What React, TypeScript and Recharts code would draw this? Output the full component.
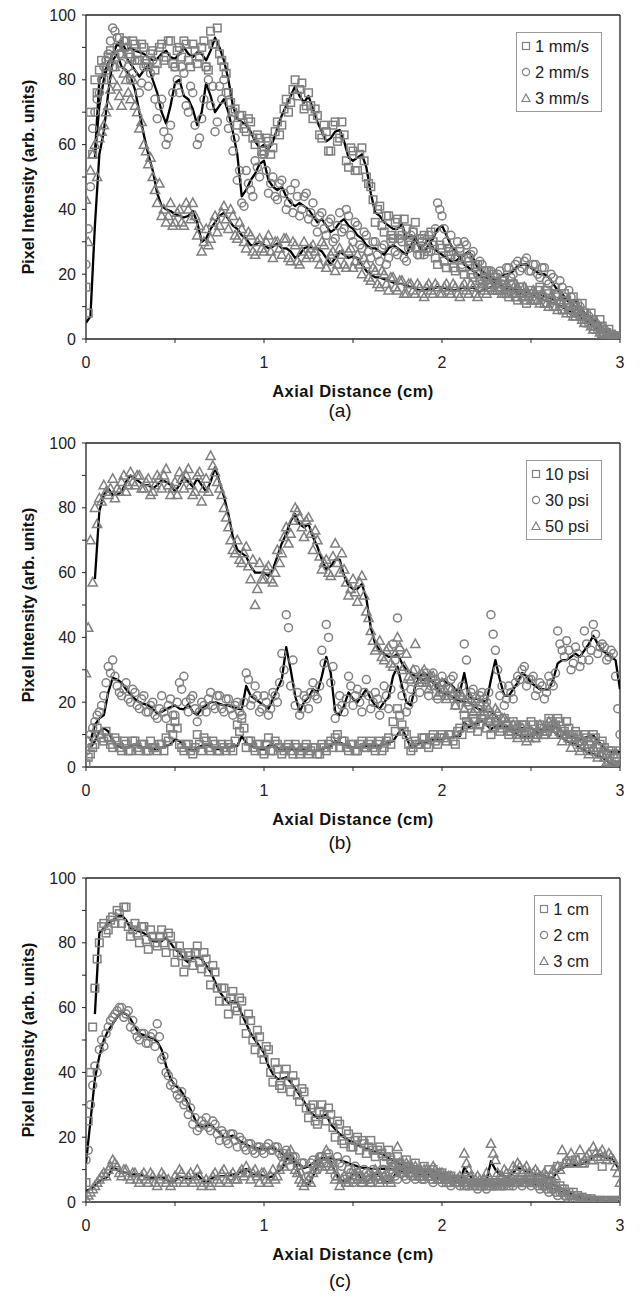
import React from 'react';
import { ComposedChart, Line, Scatter, XAxis, YAxis, ReferenceLine } from 'recharts';

const FONT = '"Liberation Sans", Arial, sans-serif';
const MARK = '#808080';

// sampling grid (cm)
const xs = [
  0, 0.025, 0.05, 0.075, 0.1, 0.125, 0.15, 0.175, 0.2, 0.225,
  0.25, 0.275, 0.3, 0.325, 0.35, 0.375, 0.4, 0.425, 0.45, 0.475,
  0.5, 0.525, 0.55, 0.575, 0.6, 0.625, 0.65, 0.675, 0.7, 0.725,
  0.75, 0.775, 0.8, 0.825, 0.85, 0.875, 0.9, 0.925, 0.95, 0.975,
  1, 1.025, 1.05, 1.075, 1.1, 1.125, 1.15, 1.175, 1.2, 1.225,
  1.25, 1.275, 1.3, 1.325, 1.35, 1.375, 1.4, 1.425, 1.45, 1.475,
  1.5, 1.525, 1.55, 1.575, 1.6, 1.625, 1.65, 1.675, 1.7, 1.725,
  1.75, 1.775, 1.8, 1.825, 1.85, 1.875, 1.9, 1.925, 1.95, 1.975,
  2, 2.025, 2.05, 2.075, 2.1, 2.125, 2.15, 2.175, 2.2, 2.225,
  2.25, 2.275, 2.3, 2.325, 2.35, 2.375, 2.4, 2.425, 2.45, 2.475,
  2.5, 2.525, 2.55, 2.575, 2.6, 2.625, 2.65, 2.675, 2.7, 2.725,
  2.75, 2.775, 2.8, 2.825, 2.85, 2.875, 2.9, 2.925, 2.95, 2.975,
  3,
];
// in-between sampling grid for the second set of measured points
const xsMid = [
  0.0125, 0.0375, 0.0625, 0.0875, 0.1125, 0.1375, 0.1625, 0.1875, 0.2125, 0.2375,
  0.2625, 0.2875, 0.3125, 0.3375, 0.3625, 0.3875, 0.4125, 0.4375, 0.4625, 0.4875,
  0.5125, 0.5375, 0.5625, 0.5875, 0.6125, 0.6375, 0.6625, 0.6875, 0.7125, 0.7375,
  0.7625, 0.7875, 0.8125, 0.8375, 0.8625, 0.8875, 0.9125, 0.9375, 0.9625, 0.9875,
  1.0125, 1.0375, 1.0625, 1.0875, 1.1125, 1.1375, 1.1625, 1.1875, 1.2125, 1.2375,
  1.2625, 1.2875, 1.3125, 1.3375, 1.3625, 1.3875, 1.4125, 1.4375, 1.4625, 1.4875,
  1.5125, 1.5375, 1.5625, 1.5875, 1.6125, 1.6375, 1.6625, 1.6875, 1.7125, 1.7375,
  1.7625, 1.7875, 1.8125, 1.8375, 1.8625, 1.8875, 1.9125, 1.9375, 1.9625, 1.9875,
  2.0125, 2.0375, 2.0625, 2.0875, 2.1125, 2.1375, 2.1625, 2.1875, 2.2125, 2.2375,
  2.2625, 2.2875, 2.3125, 2.3375, 2.3625, 2.3875, 2.4125, 2.4375, 2.4625, 2.4875,
  2.5125, 2.5375, 2.5625, 2.5875, 2.6125, 2.6375, 2.6625, 2.6875, 2.7125, 2.7375,
  2.7625, 2.7875, 2.8125, 2.8375, 2.8625, 2.8875, 2.9125, 2.9375, 2.9625, 2.9875,
];

const X_TICKS = [0, 0.5, 1, 1.5, 2, 2.5, 3];
const Y_TICKS = [0, 10, 20, 30, 40, 50, 60, 70, 80, 90, 100];

// ---------- Panel (a) ----------
const labelsA = ['1 mm/s', '2 mm/s', '3 mm/s'];
const lineA1 = [
  null, null, 57, 80, 82, 85, 88, 91, 92, 89,
  90, 89, 88.5, 88, 87, 86, 86.5, 88, 89, 87,
  86.5, 88, 90, 88, 87, 88.5, 88, 86, 89, 93,
  90, 86, 80, 72, 68, 67, 66, 64, 61, 59,
  60, 58.5, 61, 65, 69, 72, 75, 78, 75, 73,
  75, 71, 67, 64, 61, 62, 64, 64.5, 61, 56,
  55, 56, 57, 53, 45, 39, 38, 36, 35, 34,
  34, 35.5, 31, 32, 31.5, 28, 29, 31, 28, 27,
  26, 25, 24, 24, 25, 23, 22, 21, 20, 19,
  19, 18, 17, 17, 16, 15, 15, 14, 14, 13,
  13, 14, 14, 13, 13, 12, 12, 12.5, 13, 12,
  12, 10, 8, 7, 6, 5, 3.5, 2, 1, 0.5,
  0,
];
const scatA1 = [
  16, 70, 80, 83, 80, 87, 84, 90, 88, 92,
  87, 91, 86, 90, 84, 89, 85, 91, 87, 92,
  84, 90, 92, 86, 91, 85, 90, 84, 95, 91,
  88, 84, 76, 70, 66, 69, 64, 67, 60, 62,
  58, 61, 59, 67, 66, 74, 73, 80, 77, 71,
  76, 68, 69, 62, 64, 58, 67, 62, 63, 53,
  58, 52, 59, 50, 47, 36, 41, 33, 38, 31,
  37, 32, 34, 29, 36, 26, 32, 27, 30, 23,
  28, 22, 26, 21, 27, 20, 25, 19, 23, 17,
  21, 16, 19, 15, 18, 13, 17, 12, 16, 11,
  15, 12, 16, 11, 14, 10, 13, 9, 12, 8,
  10, 7, 8, 5, 6, 3, 4, 2, 1.5, 0.5,
  0.5,
];
const scatA1b = [
  8, 57, 76, 86, 83, 89, 87, 93, 90, 88,
  92, 86, 91, 85, 88, 83, 90, 86, 92, 85,
  89, 87, 91, 84, 89, 87, 92, 83, 91, 96,
  86, 82, 73, 71, 69, 65, 68, 62, 63, 58,
  62, 57, 64, 63, 71, 70, 77, 75, 79, 72,
  72, 71, 63, 66, 58, 66, 61, 67, 55, 59,
  52, 57, 55, 48, 43, 40, 35, 38, 32, 36,
  33, 37, 30, 33, 28, 31, 28, 33, 25, 29,
  24, 27, 22, 25, 22, 25, 20, 23, 18, 21,
  17, 20, 15, 18, 14, 17, 13, 16, 12, 14,
  12, 15, 13, 15, 12, 14, 11, 14, 11, 13,
  9, 11, 6, 8, 4, 6, 2, 3, 0.5, 1,
];
const lineA2 = [
  null, null, 56, 72, 80, 85, 88, 91, 90, 87,
  85, 83, 81, 83, 84.5, 80, 76, 70, 66.5, 72,
  79, 80, 75, 74, 71, 66, 70, 79, 75, 70,
  72, 74, 70, 64, 57, 44, 46, 49, 51, 54,
  55, 49, 47, 46, 47, 44, 42, 41, 42, 41,
  40, 38, 36, 37, 35, 33, 34, 36, 37, 35,
  34, 32, 31, 29, 28, 28, 27, 26, 28, 29,
  28, 27, 26, 29, 31, 28, 27, 29, 31, 34,
  35, 32, 29, 27, 25, 26, 27, 25, 22, 21,
  20, 19, 18, 19, 20, 20, 21, 22.5, 23, 23,
  22, 21, 20, 20, 19, 17, 15, 14, 12, 11,
  10, 8, 6.5, 5, 4, 3, 2, 1, 0.5, 0.3,
  0,
];
const scatA2 = [
  23, 47, 70, 76, 84, 88, 96, 93, 85, 90,
  80, 86, 76, 84, 78, 86, 68, 74, 60, 66,
  84, 76, 82, 70, 76, 60, 68, 84, 72, 64,
  78, 80, 65, 58, 49, 42, 52, 46, 55, 50,
  57, 45, 50, 43, 49, 40, 46, 48, 38, 44,
  37, 42, 33, 39, 32, 37, 31, 39, 34, 38,
  30, 35, 28, 32, 25, 30, 24, 29, 25, 31,
  26, 30, 24, 32, 28, 31, 26, 32, 29, 42,
  38, 30, 32, 25, 28, 30, 24, 27, 20, 23,
  18, 21, 17, 21, 19, 22, 20, 24, 22, 25,
  21, 23, 19, 22, 17, 19, 14, 16, 11, 13,
  8, 10, 5, 7, 3, 4, 1.5, 2, 0.5, 1,
  0.5,
];
const scatA2b = [
  34, 65, 74, 80, 86, 92, 95, 88, 92, 84,
  82, 88, 79, 86, 82, 74, 72, 64, 62, 76,
  80, 84, 72, 78, 66, 62, 74, 80, 78, 67,
  74, 76, 68, 62, 52, 41, 48, 44, 53, 57,
  52, 48, 44, 48, 45, 42, 39, 44, 40, 45,
  39, 36, 38, 34, 36, 30, 35, 33, 40, 32,
  36, 29, 33, 27, 30, 26, 28, 23, 30, 27,
  31, 25, 28, 33, 26, 30, 28, 27, 34, 40,
  34, 28, 27, 30, 23, 29, 26, 22, 24, 19,
  21, 18, 20, 17, 22, 19, 23, 21, 24, 21,
  23, 20, 22, 18, 20, 16, 18, 13, 15, 10,
  11, 7, 8, 4, 5, 2, 3, 1, 0.5, 0.5,
];
const lineA3 = [
  5, 7, 35, 57, 64, 76, 86, 88, 84, 83,
  81, 77, 70, 63, 57, 52, 45, 41, 40, 39.5,
  38.5, 38, 37.5, 38, 39.5, 36, 30, 31, 34, 36,
  38, 39, 37, 35, 34, 32, 31, 29, 29, 30,
  29, 28, 28.5, 29.5, 28, 28, 27, 25, 26, 28,
  28.5, 28, 28, 27, 25, 23, 25, 27, 26, 25,
  25.5, 25, 23, 21, 20, 19, 19, 18.5, 18, 17.5,
  17, 17, 16.5, 16, 15.5, 15, 15, 15.5, 15.5, 16,
  16, 15.5, 15, 15, 15.5, 16, 15.5, 16, 14.5, 15,
  15.5, 16, 16, 16, 16, 16, 15.5, 15, 15, 14.5,
  14, 13, 12.5, 12, 11.5, 11, 10.5, 10, 9, 8.5,
  8, 7, 6, 5, 4, 3, 2, 1, 0.5, 0.2,
  0,
];
const scatA3 = [
  43, 52, 60, 62, 66, 72, 80, 78, 72, 80,
  74, 72, 65, 60, 54, 50, 42, 38, 36, 42,
  36, 40, 35, 40, 42, 32, 27, 34, 31, 38,
  35, 41, 34, 38, 31, 34, 28, 32, 26, 31,
  27, 32, 25, 30, 26, 31, 24, 29, 23, 30,
  26, 29, 25, 30, 22, 26, 21, 28, 23, 27,
  22, 26, 20, 23, 18, 21, 16, 20, 15, 19,
  15, 18, 14, 17, 14, 16, 13, 17, 14, 16,
  14, 17, 14, 16, 13, 17, 14, 16, 13, 16,
  14, 17, 15, 17, 14, 16, 14, 16, 13, 15,
  12, 14, 11, 13, 10, 12, 9, 11, 8, 9,
  7, 8, 5, 6, 3, 4, 1.5, 2, 0.5, 1,
  0.5,
];
const scatA3b = [
  30, 57, 50, 64, 70, 77, 84, 75, 82, 76,
  80, 70, 67, 58, 56, 46, 48, 40, 38, 35,
  39, 36, 42, 37, 38, 35, 30, 29, 36, 33,
  39, 37, 40, 32, 36, 30, 33, 27, 30, 28,
  30, 27, 30, 28, 31, 25, 30, 24, 27, 25,
  28, 27, 23, 29, 24, 27, 23, 26, 22, 28,
  24, 23, 25, 19, 22, 17, 21, 17, 19, 16,
  18, 14, 17, 15, 17, 14, 16, 15, 17, 14,
  16, 15, 17, 14, 16, 15, 17, 14, 16, 15,
  17, 15, 16, 14, 17, 15, 17, 14, 16, 13,
  15, 12, 14, 11, 13, 10, 12, 9, 10, 7,
  9, 6, 7, 4, 5, 2, 3, 1, 0.5, 0.3,
];

// ---------- Panel (b) ----------
const labelsB = ['10 psi', '30 psi', '50 psi'];
const lineB10 = [
  null, 6, 8, 11, 12, 11, 8, 6.5, 6, 6,
  6.5, 7, 6.5, 6, 6, 5.5, 5.5, 6, 6.5, 7,
  8.5, 8, 6.5, 5.5, 5, 6, 6.5, 7, 6.5, 5.5,
  5.5, 6, 6, 6.5, 6.5, 9.5, 7.5, 6.5, 6, 5.5,
  5.5, 6.5, 7, 6, 5, 6, 5.5, 5.5, 5, 5.5,
  5, 5, 5, 5.5, 6, 6.5, 8, 7.5, 7, 6.5,
  6, 6, 6, 6.5, 6.5, 6.5, 6.5, 7, 7.5, 8,
  10, 12, 9, 6, 6.5, 7.5, 7.5, 8, 8.5, 8.5,
  8.7, 9, 9, 9.5, 9.5, 13.8, 12.3, 13, 13.5, 14.2,
  13, 11.7, 12.5, 12.8, 12.5, 12, 11.7, 11.7, 12, 12,
  12, 11, 11.5, 12, 13, 12.5, 12, 11, 10, 9.5,
  9, 8.7, 9, 9.5, 9.7, 8, 6.6, 5, 4.6, 4.6,
  4.6,
];
const scatB10 = [
  1, 4, 7, 10, 8, 9, 6, 8, 5, 7,
  5, 8, 5, 7, 5, 6, 5, 7, 9, 12,
  14, 7, 5, 7, 4, 10, 5, 8, 5, 7,
  5, 6, 7, 5, 13, 15, 6, 8, 5, 7,
  4, 9, 5, 7, 4, 6, 5, 7, 4, 6,
  4, 6, 4, 7, 5, 8, 9, 6, 8, 5,
  7, 5, 8, 6, 8, 5, 8, 6, 9, 14,
  18, 13, 10, 5, 8, 7, 9, 6, 10, 7,
  10, 8, 10, 7, 12, 16, 13, 15, 11, 15,
  12, 10, 14, 11, 15, 10, 14, 10, 13, 10,
  14, 9, 13, 10, 15, 12, 15, 10, 14, 9,
  11, 7, 10, 7, 10, 6, 8, 4, 5, 3,
  5,
];
const scatB10b = [
  3, 6, 12, 9, 11, 7, 9, 6, 8, 5,
  8, 6, 7, 5, 8, 6, 7, 5, 8, 10,
  12, 6, 7, 5, 6, 7, 9, 6, 8, 5,
  7, 5, 6, 8, 11, 12, 8, 6, 7, 5,
  7, 5, 8, 6, 5, 7, 4, 6, 5, 7,
  5, 6, 4, 6, 7, 6, 10, 8, 6, 7,
  5, 7, 6, 7, 6, 7, 5, 8, 7, 11,
  16, 11, 7, 6, 7, 9, 7, 9, 8, 9,
  9, 10, 8, 11, 10, 14, 12, 14, 13, 16,
  14, 12, 13, 12, 13, 11, 13, 12, 13, 11,
  13, 10, 12, 11, 14, 13, 14, 11, 12, 10,
  10, 8, 9, 8, 9, 7, 6, 5, 4, 4,
];
const lineB30 = [
  null, 8, 13, 15, 16, 23, 27.5, 27, 26, 24,
  22.5, 21, 20, 19.5, 19, 18, 16.5, 17, 17.8, 18.5,
  19, 18, 17.8, 19.4, 17, 16, 18, 19, 20, 20,
  19.5, 19, 19, 18.5, 18, 17.8, 25, 22, 21, 20,
  19, 18, 21, 24, 27, 37, 30, 22, 17, 20,
  21.5, 24, 23, 28, 34, 29, 17, 16, 19, 23,
  21, 20, 22, 24, 21, 19, 18, 20, 21.5, 28,
  31, 25, 20, 19, 25, 28, 29, 28, 26, 25.5,
  27, 26, 25.5, 24, 23, 29, 22, 21, 21, 20.5,
  20, 27, 33, 27, 22, 22, 24, 26, 29, 28,
  26, 25, 24, 24, 24, 27, 32, 33, 33, 34,
  35, 34, 36, 38, 40.5, 38, 36, 35, 34, 33,
  24,
];
const scatB30 = [
  5, 10, 14, 17, 22, 31, 33, 25, 22, 26,
  20, 23, 18, 22, 17, 20, 15, 22, 15, 21,
  16, 26, 28, 17, 22, 14, 20, 17, 23, 18,
  22, 17, 21, 16, 20, 16, 29, 19, 25, 17,
  22, 16, 23, 20, 35, 47, 25, 19, 16, 22,
  18, 26, 21, 36, 44, 26, 15, 22, 17, 28,
  19, 24, 17, 27, 18, 23, 16, 25, 18, 38,
  46, 22, 17, 24, 30, 23, 27, 22, 29, 21,
  28, 22, 27, 19, 22, 38, 19, 24, 18, 23,
  20, 47, 36, 22, 19, 25, 21, 28, 30, 25,
  27, 22, 26, 21, 28, 25, 42, 36, 39, 30,
  37, 31, 42, 33, 44, 35, 38, 33, 36, 28,
  10,
];
const scatB30b = [
  8, 12, 16, 19, 26, 29, 28, 23, 24, 21,
  24, 19, 21, 17, 19, 16, 18, 17, 19, 16,
  20, 24, 20, 21, 18, 17, 19, 21, 19, 22,
  18, 21, 18, 19, 17, 20, 27, 21, 22, 18,
  20, 18, 22, 26, 30, 43, 33, 23, 18, 21,
  23, 22, 25, 32, 40, 31, 18, 19, 21, 25,
  22, 20, 23, 22, 20, 21, 19, 22, 24, 33,
  36, 25, 19, 21, 27, 26, 29, 25, 27, 24,
  26, 24, 28, 23, 25, 33, 23, 20, 22, 21,
  23, 41, 30, 25, 21, 23, 26, 27, 31, 27,
  28, 24, 25, 23, 26, 29, 38, 34, 36, 32,
  35, 33, 38, 36, 41, 37, 37, 34, 35, 18,
];
const lineB50 = [
  null, null, 58, 79, 84, 86, 84, 84, 85, 88,
  90, 89, 88, 87, 87, 86, 87, 88.5, 88, 87,
  85, 87, 89.5, 88, 86.5, 89, 87, 85, 88, 92.5,
  88, 83.5, 78, 71, 67, 66, 65, 62, 60, 60,
  60, 59, 61, 65, 69, 72, 76, 78, 75, 74,
  75, 71, 68, 64, 61, 62, 64, 64, 59, 56,
  55, 55, 56.5, 52, 43, 38, 36, 35, 34, 34,
  35, 32, 30, 29, 28, 27, 27, 27, 26, 24,
  23, 22.5, 22, 21, 20.5, 20, 20, 19, 18, 17.5,
  17, 17, 16, 14, 13, 12, 11, 10, 9.5, 9,
  9.5, 10, 11, 11, 12, 11, 10, 9, 8, 7.5,
  7, 6, 5, 4.5, 4, 3.5, 3, 2, 1, 0.5,
  0,
];
const scatB50 = [
  29, 70, 80, 83, 87, 84, 89, 86, 88, 85,
  91, 87, 90, 86, 89, 85, 90, 86, 92, 84,
  88, 91, 86, 92, 84, 90, 82, 89, 96, 91,
  86, 80, 74, 67, 70, 63, 68, 58, 50, 63,
  58, 62, 57, 67, 66, 74, 72, 80, 77, 71,
  77, 67, 70, 61, 64, 59, 69, 60, 61, 53,
  58, 51, 59, 48, 42, 36, 39, 33, 37, 31,
  40, 30, 35, 27, 38, 26, 30, 24, 28, 22,
  26, 21, 24, 19, 23, 18, 22, 17, 21, 16,
  19, 15, 18, 13, 15, 11, 13, 9, 12, 8,
  11, 9, 13, 10, 14, 10, 12, 8, 10, 6,
  9, 5, 7, 4, 6, 3, 4, 1.5, 1, 0.5,
  0.5,
];
const scatB50b = [
  43, 57, 75, 82, 85, 86, 83, 85, 90, 87,
  88, 90, 86, 88, 84, 87, 89, 90, 87, 86,
  84, 89, 90, 87, 85, 91, 86, 85, 93, 88,
  84, 77, 70, 66, 64, 66, 62, 64, 55, 58,
  61, 58, 60, 63, 71, 69, 76, 79, 74, 76,
  72, 73, 65, 63, 60, 65, 63, 66, 57, 55,
  54, 57, 53, 46, 39, 37, 34, 36, 32, 35,
  37, 31, 28, 30, 27, 29, 26, 28, 25, 23,
  24, 22, 23, 21, 22, 20, 21, 18, 20, 17,
  18, 16, 17, 15, 14, 12, 12, 10, 11, 9,
  10, 11, 12, 11, 13, 12, 11, 10, 9, 8,
  8, 6, 6, 5, 5, 4, 3, 2, 1, 0.5,
];

// ---------- Panel (c) ----------
const labelsC = ['1 cm', '2 cm', '3 cm'];
const lineC1 = [
  null, null, 58, 83, 84.5, 86, 87, 88, 88.5, 87,
  84.5, 84, 83.5, 83, 82, 80.5, 80.5, 80.5, 81.5, 80,
  78, 77, 75, 74, 75.5, 75.5, 75, 73, 71, 68,
  65, 63, 61.5, 62, 61.5, 58, 55, 52, 50, 48,
  46, 42, 39.5, 38, 38, 38.5, 37, 35, 33, 31,
  28.5, 27, 26, 26.5, 27, 24, 22.5, 21, 20, 19,
  18.5, 17.5, 17, 16.5, 16, 15.5, 15, 14.5, 13.5, 13,
  12, 11.5, 11, 10.5, 10, 9.5, 9, 8.7, 8.4, 8,
  7.5, 7, 6.8, 6.5, 6.2, 6, 6, 5.8, 5.6, 5.5,
  5.5, 5.5, 5.5, 5.6, 5.8, 6, 6, 6.3, 6.5, 6.5,
  6.5, 6.4, 6.2, 6, 5.8, 5.3, 4.8, 4, 3.4, 2.6,
  1.9, 1.4, 1, 0.8, 0.6, 0.5, 0.4, 0.3, 0.3, 0.3,
  0.3,
];
const scatC1 = [
  6, 40, 66, 80, 86, 84, 88, 90, 86, 91,
  82, 86, 80, 85, 78, 82, 79, 84, 77, 82,
  74, 79, 71, 77, 73, 79, 72, 75, 67, 71,
  62, 66, 58, 65, 59, 62, 52, 56, 47, 51,
  44, 47, 37, 41, 35, 41, 34, 37, 31, 34,
  26, 30, 24, 30, 25, 27, 20, 24, 18, 21,
  17, 20, 19, 15, 19, 14, 17, 12, 16, 11,
  14, 10, 13, 9, 12, 8, 11, 8, 10, 7,
  9, 6, 8, 6, 7, 5, 7, 5, 6, 5,
  6, 5, 6, 5, 6, 5, 7, 6, 7, 6,
  7, 6, 7, 5, 10, 5, 11, 4, 12, 2,
  13, 1, 12, 0.5, 13, 0.5, 11, 0.5, 0.5, 0.5,
  0.5,
];
const scatC1b = [
  25, 54, 75, 85, 83, 87, 86, 89, 91, 85,
  84, 83, 85, 81, 84, 80, 82, 80, 83, 79,
  77, 76, 74, 76, 77, 74, 77, 71, 73, 66,
  66, 62, 63, 60, 63, 56, 58, 50, 53, 46,
  48, 40, 43, 36, 39, 37, 39, 33, 35, 29,
  29, 25, 28, 27, 29, 23, 25, 19, 22, 17,
  19, 16, 18, 17, 16, 16, 15, 14, 13, 12,
  12, 11, 11, 10, 10, 9, 9, 8, 9, 7,
  8, 7, 7, 6, 7, 6, 6, 6, 5, 6,
  5, 6, 5, 6, 6, 6, 6, 7, 6, 7,
  6, 7, 6, 6, 6, 5, 5, 4, 3, 3,
  2, 1.5, 1, 1, 0.5, 0.5, 0.5, 0.3, 0.3, 0.3,
];
const lineC2 = [
  12, 25, 38, 45, 50, 53, 55, 57, 58.5, 58,
  56.5, 54, 52, 51.5, 51, 50.5, 49.5, 47, 42, 38,
  36, 35, 33, 30, 27, 24, 23, 23.5, 24, 22.5,
  21.5, 20, 20, 20.5, 19.5, 18.5, 17.8, 17, 16.7, 16.5,
  16.3, 16.5, 16.7, 16, 15, 14, 13, 12, 11.5, 10.5,
  11, 12, 13, 13.5, 13.5, 13.5, 13, 13, 12.5, 12,
  11.5, 11, 10.6, 10.5, 10.3, 10.2, 10.2, 10.2, 10.2, 10,
  9.8, 9.5, 9.5, 9.2, 9, 8.6, 8.3, 8, 7.8, 7.5,
  7.3, 7, 6.8, 6.5, 6.3, 6.2, 6, 6, 5.8, 5.7,
  5.5, 5.5, 5.6, 5.8, 6, 6, 6, 6, 6, 6,
  5.8, 5.6, 5.5, 5, 4.5, 4, 3.5, 3, 2.5, 2,
  1.5, 1, 0.8, 0.5, 0.4, 0.3, 0.3, 0.3, 0.3, 0.3,
  0.3,
];
const scatC2 = [
  13, 30, 42, 47, 48, 54, 57, 59, 60, 58,
  54, 53, 50, 52, 49, 52, 55, 44, 40, 36,
  35, 32, 30, 27, 24, 22, 25, 26, 22, 24,
  19, 21, 18, 21, 17, 19, 16, 18, 15, 17,
  15, 18, 16, 17, 14, 16, 11, 14, 9, 12,
  8, 13, 10, 14, 11, 13, 8, 12, 7, 10,
  6, 9, 6, 9, 6, 9, 7, 10, 7, 9,
  7, 9, 7, 8, 7, 8, 7, 8, 6, 8,
  6, 7, 5, 7, 5, 6, 5, 6, 4, 6,
  4, 6, 5, 6, 5, 7, 5, 7, 5, 7,
  5, 6, 4, 5, 3, 4, 2, 3, 1.5, 2,
  0.5, 1, 0.3, 0.5, 0, 0.3, 0, 0.3, 0, 0.3,
  0.5,
];
const scatC2b = [
  16, 36, 40, 50, 52, 56, 58, 60, 57, 59,
  56, 51, 52, 49, 51, 48, 51, 45, 39, 37,
  33, 34, 31, 29, 26, 23, 24, 23, 25, 21,
  22, 19, 21, 19, 20, 17, 18, 16, 17, 16,
  17, 16, 17, 15, 15, 13, 14, 11, 12, 10,
  12, 11, 14, 12, 15, 12, 14, 11, 13, 9,
  11, 8, 10, 7, 10, 8, 10, 7, 10, 8,
  9, 8, 9, 8, 9, 7, 9, 7, 8, 7,
  7, 6, 7, 6, 7, 5, 7, 5, 6, 5,
  6, 5, 6, 5, 6, 6, 6, 6, 6, 6,
  6, 5, 5, 4, 4, 3, 3, 2, 2, 1,
  1, 0.5, 0.5, 0.3, 0.3, 0, 0.3, 0, 0.3, 0,
];
const lineC3 = [
  3.4, 4, 5, 6.5, 7, 8, 10.6, 10, 9.2, 9,
  8.5, 8.5, 8.5, 8, 7.5, 7.5, 7.5, 7.8, 7, 6,
  6.5, 7.8, 7.5, 7, 7.5, 8.5, 7, 6, 7, 8,
  8, 8, 8, 8.5, 8.5, 9.5, 10.2, 9, 8.5, 8.5,
  8, 7.5, 8, 9.5, 10, 13, 14.8, 12, 8.5, 6,
  5.5, 8, 11, 13, 13.6, 12.5, 9, 7, 6.5, 6.5,
  8.5, 9, 7, 6, 7.5, 9, 8, 6.5, 6, 7.5,
  9.5, 10, 10.5, 10.6, 10, 9.5, 9.5, 9.5, 9.5, 9,
  8.5, 8, 8, 7, 6, 10.6, 8.5, 7, 7, 6.5,
  6.5, 12.6, 10, 8.5, 8, 7.5, 9, 10.6, 10, 9.5,
  9, 8.5, 8.5, 8, 7.5, 7.5, 9.5, 10.5, 11, 11.5,
  11.5, 11.5, 12, 12.6, 14, 14.8, 14, 13.6, 13.6, 12,
  9.5,
];
const scatC3 = [
  1, 3, 5, 7, 9, 10, 13, 11, 8, 10,
  7, 9, 6, 9, 6, 8, 5, 9, 6, 5,
  8, 10, 6, 8, 6, 10, 5, 7, 5, 9,
  6, 10, 6, 9, 7, 10, 11, 7, 10, 6,
  9, 6, 10, 8, 12, 14, 16, 10, 7, 5,
  7, 9, 13, 11, 16, 10, 7, 5, 8, 6,
  10, 7, 6, 8, 6, 10, 6, 8, 7, 11,
  17, 9, 12, 9, 11, 8, 10, 8, 11, 7,
  9, 7, 8, 6, 8, 15, 10, 6, 8, 6,
  9, 18, 13, 8, 10, 7, 11, 12, 9, 11,
  8, 10, 8, 9, 7, 10, 11, 16, 13, 15,
  12, 16, 13, 15, 17, 14, 16, 13, 14, 11,
  6,
];
const scatC3b = [
  2, 4, 6, 8, 8, 11, 12, 9, 10, 8,
  9, 7, 8, 7, 9, 6, 7, 8, 7, 6,
  7, 9, 7, 9, 7, 8, 6, 6, 8, 7,
  9, 7, 8, 7, 9, 8, 9, 9, 8, 9,
  7, 8, 7, 10, 11, 15, 13, 9, 6, 6,
  6, 10, 12, 14, 12, 11, 8, 7, 6, 7,
  8, 8, 7, 7, 8, 8, 7, 7, 6, 9,
  12, 10, 11, 10, 10, 9, 10, 9, 10, 9,
  8, 8, 7, 7, 7, 12, 8, 7, 7, 7,
  8, 15, 9, 8, 9, 8, 10, 11, 10, 9,
  9, 9, 8, 8, 8, 8, 10, 12, 12, 12,
  13, 12, 14, 13, 15, 15, 14, 15, 13, 9,
];

type Num = number | null;
const toPts = (grid: number[], vals: Num[]) =>
  vals.map((v, i) => ({ x: grid[i], y: v })).filter((p) => p.x !== undefined);

const Square = (p: any) => (
  <rect x={p.cx - 3.8} y={p.cy - 3.8} width={7.6} height={7.6} fill="none" stroke={MARK} strokeWidth={1.5} />
);
const Circle = (p: any) => (
  <circle cx={p.cx} cy={p.cy} r={4} fill="none" stroke={MARK} strokeWidth={1.5} />
);
const Tri = (p: any) => (
  <polygon
    points={`${p.cx},${p.cy - 4.8} ${p.cx - 4.6},${p.cy + 3.6} ${p.cx + 4.6},${p.cy + 3.6}`}
    fill="none"
    stroke={MARK}
    strokeWidth={1.5}
  />
);
const SHAPES = [Square, Circle, Tri];

const LegendIcon = ({ kind }: { kind: number }) => (
  <svg width={10} height={10} style={{ display: 'block' }}>
    {kind === 0 && <rect x={1.5} y={1.5} width={7} height={7} fill="none" stroke={MARK} strokeWidth={1.2} />}
    {kind === 1 && <circle cx={5} cy={5} r={3.6} fill="none" stroke={MARK} strokeWidth={1.2} />}
    {kind === 2 && <polygon points="5,1 1,8.5 9,8.5" fill="none" stroke={MARK} strokeWidth={1.2} />}
  </svg>
);

type PanelProps = {
  scat: Num[][];
  scatMid: Num[][];
  lines: Num[][];
  labels: string[];
  caption: string;
  height: number;
  capCenter: number;
};

function Panel({ scat, scatMid, lines, labels, caption, height, capCenter }: PanelProps) {
  return (
    <div style={{ position: 'relative', width: 624, height }}>
      <ComposedChart width={624} height={395} margin={{ top: 7, right: 12, bottom: 0, left: 0 }}>
        <XAxis
          type="number"
          dataKey="x"
          domain={[0, 3]}
          ticks={X_TICKS}
          allowDataOverflow
          interval={0}
          tickFormatter={(v: number) => (Math.abs(v - Math.round(v)) < 1e-9 ? String(v) : '')}
          tickSize={4}
          tickMargin={14}
          tick={{ fontSize: 16, fill: '#222', fontFamily: FONT }}
          axisLine={{ stroke: '#222', strokeWidth: 1.3 }}
          tickLine={{ stroke: '#222' }}
          height={64}
          label={{
            value: 'Axial Distance (cm)',
            position: 'insideBottom',
            offset: 6,
            style: { fontSize: 16.5, fontWeight: 'bold', fill: '#111', fontFamily: FONT, letterSpacing: 0.5 },
          }}
        />
        <YAxis
          type="number"
          dataKey="y"
          domain={[0, 100]}
          ticks={Y_TICKS}
          allowDataOverflow
          interval={0}
          tickFormatter={(v: number) => (v % 20 === 0 ? String(v) : '')}
          tickSize={4}
          tickMargin={6}
          tick={{ fontSize: 16, fill: '#222', fontFamily: FONT }}
          axisLine={{ stroke: '#222', strokeWidth: 1.3 }}
          tickLine={{ stroke: '#222' }}
          width={78}
          label={{
            value: 'Pixel Intensity (arb. units)',
            angle: -90,
            position: 'insideLeft',
            offset: 20,
            style: { textAnchor: 'middle', fontSize: 16, fontWeight: 'bold', fill: '#111', fontFamily: FONT },
          }}
        />
        <ReferenceLine y={100} stroke="#222" strokeWidth={1.3} />
        <ReferenceLine x={3} stroke="#222" strokeWidth={1.3} />
        {scat.map((s, i) => (
          <Scatter key={'s' + i} data={toPts(xs, s)} shape={SHAPES[i]} isAnimationActive={false} />
        ))}
        {scatMid.map((s, i) => (
          <Scatter key={'m' + i} data={toPts(xsMid, s)} shape={SHAPES[i]} isAnimationActive={false} />
        ))}
        {lines.map((l, i) => (
          <Line
            key={'l' + i}
            data={toPts(xs, l)}
            dataKey="y"
            type="linear"
            stroke="#000"
            strokeWidth={2.3}
            strokeLinejoin="round"
            dot={false}
            activeDot={false}
            connectNulls={false}
            isAnimationActive={false}
          />
        ))}
      </ComposedChart>
      <div
        style={{
          position: 'absolute',
          top: 24,
          right: 30,
          border: '1px solid #999',
          background: '#fff',
          padding: '0 12px 0 4px',
          fontFamily: FONT,
          fontSize: 16.5,
          color: '#222',
        }}
      >
        {labels.map((lab, i) => (
          <div key={lab} style={{ display: 'flex', alignItems: 'center', height: 26, lineHeight: '26px' }}>
            <LegendIcon kind={i} />
            <span style={{ marginLeft: 4, whiteSpace: 'nowrap' }}>{lab}</span>
          </div>
        ))}
      </div>
      <div
        style={{
          position: 'absolute',
          top: capCenter - 7,
          left: 232,
          width: 200,
          height: 16,
          lineHeight: '16px',
          textAlign: 'center',
          fontFamily: FONT,
          fontSize: 19,
          color: '#111',
        }}
      >
        {caption}
      </div>
    </div>
  );
}

export default function App() {
  return (
    <div style={{ width: 624 }}>
      <Panel
        scat={[scatA1, scatA2, scatA3]}
        scatMid={[scatA1b, scatA2b, scatA3b]}
        lines={[lineA1, lineA2, lineA3]}
        labels={labelsA}
        caption="(a)"
        height={428}
        capCenter={402}
      />
      <Panel
        scat={[scatB10, scatB30, scatB50]}
        scatMid={[scatB10b, scatB30b, scatB50b]}
        lines={[lineB10, lineB30, lineB50]}
        labels={labelsB}
        caption="(b)"
        height={435}
        capCenter={406}
      />
      <Panel
        scat={[scatC1, scatC2, scatC3]}
        scatMid={[scatC1b, scatC2b, scatC3b]}
        lines={[lineC1, lineC2, lineC3]}
        labels={labelsC}
        caption="(c)"
        height={430}
        capCenter={409}
      />
    </div>
  );
}
